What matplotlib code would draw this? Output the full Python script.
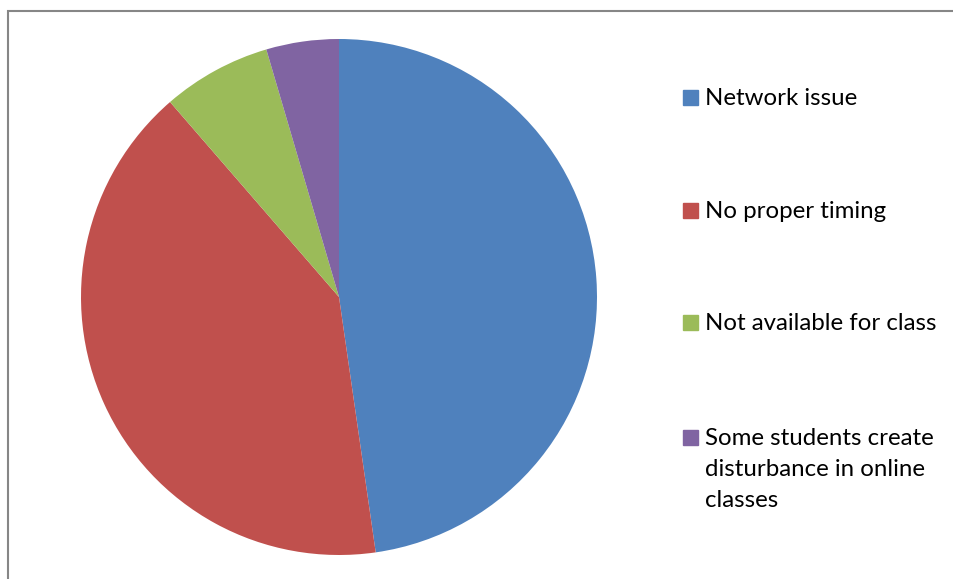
import matplotlib.pyplot as plt
from matplotlib.patches import Rectangle

labels = ['Network issue', 'No proper timing', 'Not available for class',
          'Some students create\ndisturbance in online\nclasses']
counts = [21, 18, 3, 2]
colors = ['#4F81BD', '#C0504D', '#9BBB59', '#8064A2']

W, H = 954, 579
fig = plt.figure(figsize=(W / 100, H / 100), dpi=100)

# chart border (cropped on right and bottom)
fig.patches.append(Rectangle((8 / W, -0.1), 1.2, (H - 11) / H + 0.1,
                             transform=fig.transFigure, fill=False,
                             edgecolor='#868686', linewidth=1.5))

ax = fig.add_axes([81 / W, (H - 555) / H, 516 / W, 516 / H])
ax.pie(counts, colors=colors, startangle=90, counterclock=False,
       wedgeprops={'linewidth': 0})
ax.set_xlim(-1, 1)
ax.set_ylim(-1, 1)
ax.set_aspect('equal')
ax.axis('off')

# legend drawn by hand to match the spacing
ys = [97, 210, 322, 437]
for lab, col, y in zip(labels, colors, ys):
    fig.patches.append(Rectangle((683 / W, (H - y - 7.5) / H), 15 / W, 15 / H,
                                 transform=fig.transFigure, color=col))
    fig.text(705 / W, (H - y + 9) / H, lab, fontsize=17.3, family='Lato',
             va='top', ha='left', linespacing=1.6, color='#000000')

fig.savefig('out.png', dpi=100)
